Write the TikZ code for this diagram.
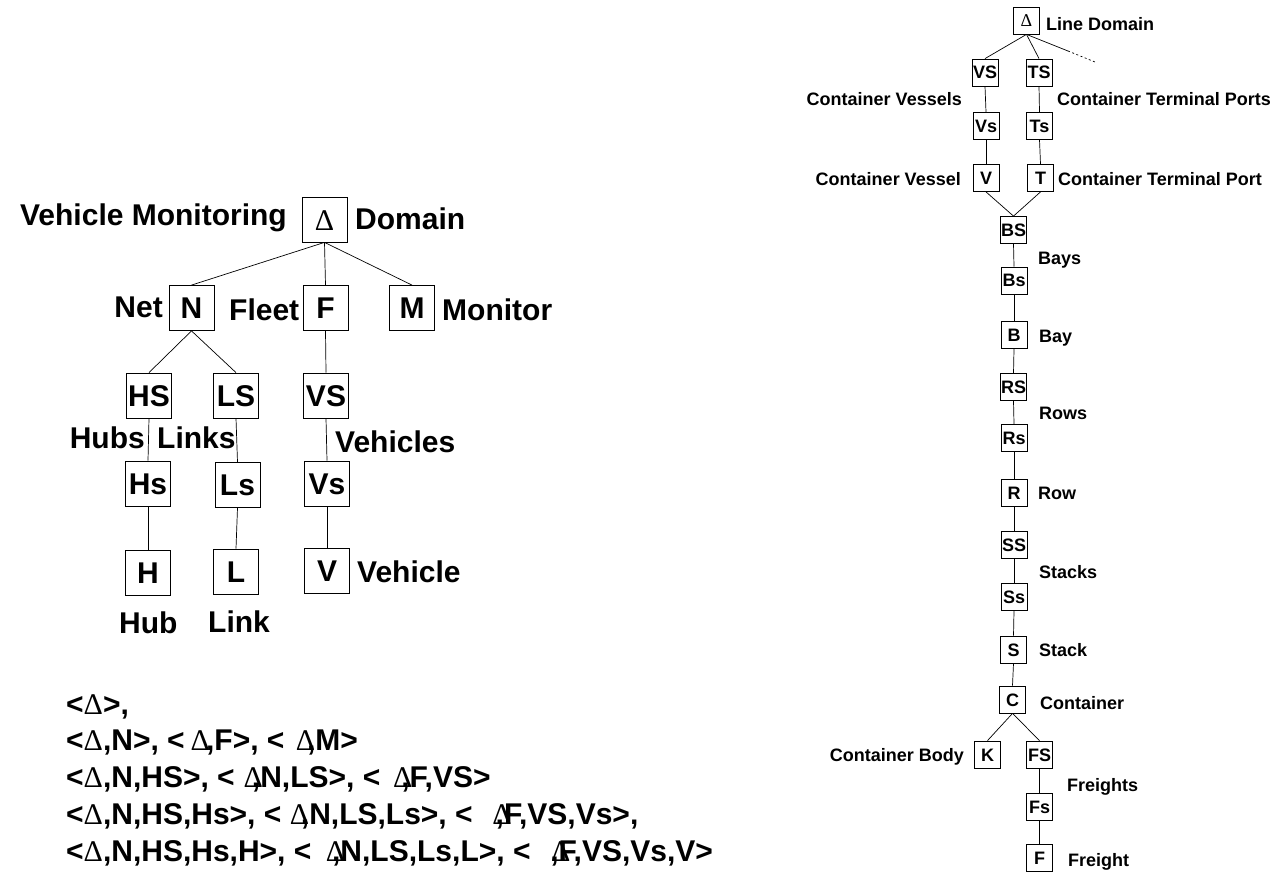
\documentclass[tikz,border=0pt]{standalone}
\usepackage{fontspec}
\setmainfont{Liberation Sans}
\newfontfamily\dfont{Liberation Serif}
\newcommand{\D}{{\dfont\mdseries Δ}}
\tikzset{
  big/.style={font=\fontsize{30}{36}\selectfont\bfseries},
  small/.style={font=\fontsize{18}{22}\selectfont\bfseries},
  bbox/.style={draw, line width=0.8pt, minimum width=45pt, minimum height=45pt, inner sep=0pt, text height=21.5pt, text depth=0pt, big},
  sbox/.style={draw, line width=0.8pt, minimum width=26pt, minimum height=27pt, inner sep=0pt, text height=13pt, text depth=0pt, small},
  blab/.style={inner sep=0pt, big},
  slab/.style={inner sep=0pt, small},
  edge/.style={line width=0.7pt}
}
\begin{document}
\begin{tikzpicture}[x=1pt,y=-1pt]
\useasboundingbox (0,0) rectangle (1281,874);
% ---------------- left tree ----------------
\node[bbox] (lD) at (324.5,219.5) {\D};
\node[bbox] (lN) at (191.5,308) {N};
\node[bbox] (lF) at (325.5,308) {F};
\node[bbox] (lM) at (412,308) {M};
\node[bbox] (lHS) at (149,395.5) {HS};
\node[bbox] (lLS) at (236,395.5) {LS};
\node[bbox] (lVS) at (326,395.5) {VS};
\node[bbox] (lHs) at (148,483.5) {Hs};
\node[bbox] (lLs) at (237.5,485) {Ls};
\node[bbox] (lVs) at (327,483.5) {Vs};
\node[bbox] (lH) at (148,573) {H};
\node[bbox] (lL) at (236,571.5) {L};
\node[bbox] (lV) at (327,570.5) {V};

\draw[edge] (lD.south) -- (lN.north);
\draw[edge] (lD.south) -- (lF.north);
\draw[edge] (lD.south) -- (lM.north);
\draw[edge] (lN.south) -- (lHS.north);
\draw[edge] (lN.south) -- (lLS.north);
\draw[edge] (lF.south) -- (lVS.north);
\draw[edge] (lHS.south) -- (lHs.north);
\draw[edge] (lLS.south) -- (lLs.north);
\draw[edge] (lVS.south) -- (lVs.north);
\draw[edge] (lHs.south) -- (lH.north);
\draw[edge] (lLs.south) -- (lL.north);
\draw[edge] (lVs.south) -- (lV.north);

\node[blab, anchor=base east] (tVM) at (287,226) {Vehicle Monitoring};
\node[blab, anchor=base west] (tDom) at (355,230) {Domain};
\node[blab, anchor=base east] (tNet) at (163,317) {Net};
\node[blab, anchor=base west] (tFleet) at (229,320) {Fleet};
\node[blab, anchor=base west] (tMon) at (442,320) {Monitor};
\node[blab, anchor=base east] (tHubs) at (145,448) {Hubs};
\node[blab, anchor=base west] (tLinks) at (157,448) {Links};
\node[blab, anchor=base west] (tVehs) at (335,452) {Vehicles};
\node[blab, anchor=base west] (tVeh) at (357,582) {Vehicle};
\node[blab, anchor=base west] (tHub) at (119,633) {Hub};
\node[blab, anchor=base west] (tLink) at (208,632) {Link};

% ---------------- tuples ----------------
\node[blab, anchor=base west] (r1) at (66,714) {<\D>,};
\node[blab, anchor=base west] (r2) at (66,750) {<\D,N>, <\kern.2em\D\kern-.13em,F>, < \kern.1em\D\kern-.27em,M>};
\node[blab, anchor=base west] (r3) at (66,787) {<\D,N,HS>, <\kern.3em\D\kern-.37em,N,LS>, < \kern.15em\D\kern-.37em,F,VS>};
\node[blab, anchor=base west] (r4) at (66,824) {<\D,N,HS,Hs>, < \D\kern-.27em,N,LS,Ls>, <\ \ \kern.1em\D\kern-.53em,F,VS,Vs>,};
\node[blab, anchor=base west] (r5) at (66,861) {<\D,N,HS,Hs,H>, < \kern.2em\D\kern-.43em,N,LS,Ls,L>, <\ \ \kern.13em\D\kern-.67em,F,VS,Vs,V>};

% ---------------- right tree ----------------
\node[sbox] (rD) at (1026.5,20.5) {\D};
\node[sbox] (rVS) at (985,72.5) {VS};
\node[sbox] (rTS) at (1039,72.5) {TS};
\node[sbox] (rVs) at (986,126) {Vs};
\node[sbox] (rTs) at (1039.5,126) {Ts};
\node[sbox] (rV) at (986,178) {V};
\node[sbox] (rT) at (1040.5,178) {T};
\node[sbox] (rBS) at (1013.5,230) {BS};
\node[sbox] (rBs) at (1014,280.5) {Bs};
\node[sbox] (rB) at (1014,335) {B};
\node[sbox] (rRS) at (1013.5,387) {RS};
\node[sbox] (rRs) at (1014,438) {Rs};
\node[sbox] (rR) at (1014,492.5) {R};
\node[sbox] (rSS) at (1014,545) {SS};
\node[sbox] (rSs) at (1014,596.5) {Ss};
\node[sbox] (rS) at (1013.5,649.5) {S};
\node[sbox] (rC) at (1012.5,699.5) {C};
\node[sbox] (rK) at (987.5,754.5) {K};
\node[sbox] (rFS) at (1039.5,754.5) {FS};
\node[sbox] (rFs) at (1039.5,806.5) {Fs};
\node[sbox] (rF) at (1039.5,857.5) {F};

\coordinate (dmid) at (1068,51);
\coordinate (dend) at (1095,62);
\draw[edge] (rD.south) -- (rVS.north);
\draw[edge] (rD.south) -- (rTS.north);
\draw[edge] (rD.south) -- (dmid);
\draw[edge, dash pattern=on 2pt off 2.5pt] (dmid) -- (dend);
\draw[edge] (rVS.south) -- (rVs.north);
\draw[edge] (rTS.south) -- (rTs.north);
\draw[edge] (rVs.south) -- (rV.north);
\draw[edge] (rTs.south) -- (rT.north);
\draw[edge] (rV.south) -- (rBS.north);
\draw[edge] (rT.south) -- (rBS.north);
\draw[edge] (rBS.south) -- (rBs.north);
\draw[edge] (rBs.south) -- (rB.north);
\draw[edge] (rB.south) -- (rRS.north);
\draw[edge] (rRS.south) -- (rRs.north);
\draw[edge] (rRs.south) -- (rR.north);
\draw[edge] (rR.south) -- (rSS.north);
\draw[edge] (rSS.south) -- (rSs.north);
\draw[edge] (rSs.south) -- (rS.north);
\draw[edge] (rS.south) -- (rC.north);
\draw[edge] (rC.south) -- (rK.north);
\draw[edge] (rC.south) -- (rFS.north);
\draw[edge] (rFS.south) -- (rFs.north);
\draw[edge] (rFs.south) -- (rF.north);

\node[slab, anchor=base west] (sLD) at (1046,31) {Line Domain};
\node[slab, anchor=base east] (sCVs) at (962,106) {Container Vessels};
\node[slab, anchor=base west] (sCTPs) at (1057,106) {Container Terminal Ports};
\node[slab, anchor=base east] (sCV) at (961,186) {Container Vessel};
\node[slab, anchor=base west] (sCTP) at (1058,186) {Container Terminal Port};
\node[slab, anchor=base west] (sBays) at (1038,265) {Bays};
\node[slab, anchor=base west] (sBay) at (1039,342) {Bay};
\node[slab, anchor=base west] (sRows) at (1039,419) {Rows};
\node[slab, anchor=base west] (sRow) at (1038,499) {Row};
\node[slab, anchor=base west] (sStacks) at (1039,578) {Stacks};
\node[slab, anchor=base west] (sStack) at (1039,656) {Stack};
\node[slab, anchor=base west] (sCont) at (1040,709) {Container};
\node[slab, anchor=base east] (sBody) at (964,761) {Container Body};
\node[slab, anchor=base west] (sFrs) at (1067,791) {Freights};
\node[slab, anchor=base west] (sFr) at (1068,866) {Freight};
\end{tikzpicture}
\end{document}
